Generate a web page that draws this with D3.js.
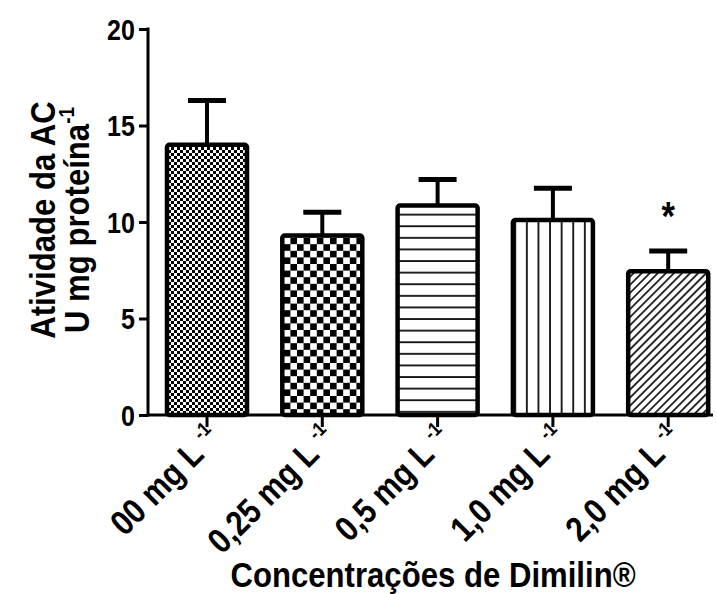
<!DOCTYPE html>
<html><head><meta charset="utf-8">
<script src="https://cdn.jsdelivr.net/npm/d3@7"></script>
<style>body{margin:0;background:#fff}svg{display:block}text{font-family:"Liberation Sans",Arial,sans-serif;font-weight:bold;fill:#000}</style>
</head><body>
<script>
const categories = ["00 mg L", "0,25 mg L", "0,5 mg L", "1,0 mg L", "2,0 mg L"];
const means = [14.0, 9.3, 10.85, 10.1, 7.45];
const errors = [2.3, 1.2, 1.35, 1.65, 1.05];
const marks = ["", "", "", "", "*"];
const yTicks = [0, 5, 10, 15, 20];
const patterns = ["fineChecker", "checker", "hlines", "vlines", "diag"];

const W = 717, H = 594, SX = 0.865;
const svg = d3.select("body").append("svg").attr("width", W).attr("height", H);
const defs = svg.append("defs");

// patterns
let p = defs.append("pattern").attr("id","fineChecker").attr("patternUnits","userSpaceOnUse").attr("width",6).attr("height",6);
p.append("rect").attr("width",6).attr("height",6).attr("fill","#fff");
p.append("rect").attr("width",3).attr("height",3).attr("fill","#000");
p.append("rect").attr("x",3).attr("y",3).attr("width",3).attr("height",3).attr("fill","#000");
p = defs.append("pattern").attr("id","checker").attr("patternUnits","userSpaceOnUse").attr("width",13.2).attr("height",13.2);
p.append("rect").attr("width",13.2).attr("height",13.2).attr("fill","#fff");
p.append("rect").attr("width",6.6).attr("height",6.6).attr("fill","#000");
p.append("rect").attr("x",6.6).attr("y",6.6).attr("width",6.6).attr("height",6.6).attr("fill","#000");
p = defs.append("pattern").attr("id","hlines").attr("patternUnits","userSpaceOnUse").attr("width",10).attr("height",11.6);
p.append("rect").attr("width",10).attr("height",11.6).attr("fill","#fff");
p.append("rect").attr("y",5).attr("width",10).attr("height",1.7).attr("fill","#000");
p = defs.append("pattern").attr("id","vlines").attr("patternUnits","userSpaceOnUse").attr("width",11.6).attr("height",10);
p.append("rect").attr("width",11.6).attr("height",10).attr("fill","#fff");
p.append("rect").attr("x",4).attr("width",1.7).attr("height",10).attr("fill","#000");
p = defs.append("pattern").attr("id","diag").attr("patternUnits","userSpaceOnUse").attr("width",5.7).attr("height",10).attr("patternTransform","rotate(45)");
p.append("rect").attr("width",5.7).attr("height",10).attr("fill","#fff");
p.append("rect").attr("x",2).attr("width",1.6).attr("height",10).attr("fill","#000");

const x = d3.scaleBand().domain(categories).range([149.35, 725.85]).paddingInner(0.306).paddingOuter(0.153);
const y = d3.scaleLinear().domain([0, 20]).range([415, 29]);

// bars
const g = svg.append("g");
categories.forEach((c, i) => {
  const x0 = x(c), bw = x.bandwidth(), cx = x0 + bw / 2;
  g.append("rect").attr("x", x0).attr("y", y(means[i])).attr("width", bw)
    .attr("height", y(0) - y(means[i])).attr("rx", 2.5)
    .attr("fill", `url(#${patterns[i]})`).attr("stroke", "#000").attr("stroke-width", 4.5);
  const top = y(means[i] + errors[i]);
  g.append("line").attr("x1", cx).attr("x2", cx).attr("y1", y(means[i])).attr("y2", top)
    .attr("stroke", "#000").attr("stroke-width", 4);
  g.append("line").attr("x1", cx - 19).attr("x2", cx + 19).attr("y1", top).attr("y2", top)
    .attr("stroke", "#000").attr("stroke-width", 5);
  if (marks[i]) {
    g.append("text").attr("transform", `translate(${cx},${top - 21}) scale(${SX},1)`)
      .attr("text-anchor", "middle").attr("font-size", 40).text(marks[i]);
  }
});

// y axis
const yAxis = svg.append("g").attr("transform", "translate(148,0)")
  .call(d3.axisLeft(y).tickValues(yTicks).tickSize(9).tickSizeOuter(0).tickPadding(3));
yAxis.select(".domain").attr("stroke-width", 3).attr("d", `M0,${y(20) - 1.5}V${y(0) + 1.5}`);
yAxis.selectAll(".tick line").attr("stroke-width", 3);
yAxis.selectAll(".tick text").attr("font-size", 29).attr("font-family", '"Liberation Sans",Arial,sans-serif')
  .attr("font-weight","bold").attr("dy","0.36em")
  .attr("x", -13 / SX).attr("transform", `scale(${SX},1)`);

// x axis
const xAxis = svg.append("g").attr("transform", "translate(0,415)")
  .call(d3.axisBottom(x).tickSize(12).tickSizeOuter(0).tickFormat(""));
xAxis.select(".domain").attr("stroke-width", 3).attr("d", "M146.5,0H713");
xAxis.selectAll(".tick line").attr("stroke-width", 3);
xAxis.selectAll(".tick").each(function(d) {
  const t = d3.select(this).append("text")
    .attr("transform", `translate(15,25) rotate(-45) scale(${SX},1)`)
    .attr("text-anchor", "end").attr("font-size", 35).attr("fill", "#000");
  t.append("tspan").text(d + " ");
  t.append("tspan").attr("font-size", 20).attr("dy", -14).text("-1");
});

// axis titles
svg.append("text").attr("transform", `translate(433,587) scale(${SX},1)`).attr("text-anchor", "middle")
  .attr("font-size", 36).text("Concentrações de Dimilin®");
const yt = svg.append("text").attr("transform", `translate(55,220) rotate(-90) scale(${SX},1)`)
  .attr("text-anchor", "middle").attr("font-size", 36);
yt.append("tspan").attr("x", 0).attr("dy", 0).text("Atividade da AC");
const l2 = yt.append("tspan").attr("x", 0).attr("dy", 34);
l2.append("tspan").text("U mg proteína");
l2.append("tspan").attr("font-size", 22).attr("dy", -15).text("-1");
</script>
</body></html>
